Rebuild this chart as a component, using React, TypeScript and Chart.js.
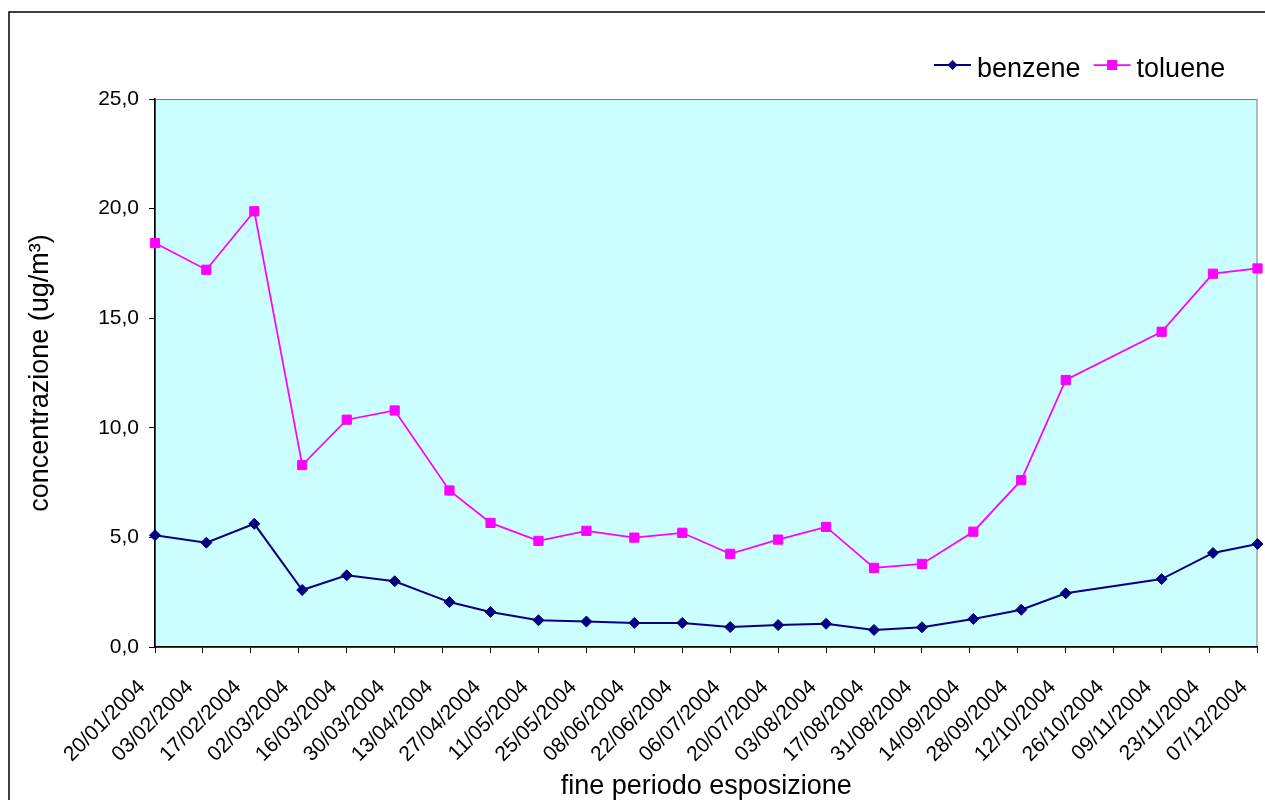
import React, { useEffect, useRef } from "react";
import { Chart, registerables } from "chart.js";

Chart.register(...registerables);

// ---- data ----
const sampleDates = [
  "20/01/2004", "04/02/2004", "18/02/2004", "03/03/2004", "16/03/2004", "30/03/2004",
  "15/04/2004", "27/04/2004", "11/05/2004", "25/05/2004", "08/06/2004", "22/06/2004",
  "06/07/2004", "20/07/2004", "03/08/2004", "17/08/2004", "31/08/2004", "15/09/2004",
  "29/09/2004", "12/10/2004", "09/11/2004", "24/11/2004", "07/12/2004",
];
const benzene = [
  5.1, 4.76, 5.62, 2.6, 3.27, 3.0, 2.05, 1.6, 1.22, 1.16, 1.1, 1.1,
  0.91, 1.0, 1.06, 0.78, 0.9, 1.28, 1.7, 2.45, 3.1, 4.29, 4.7,
];
const toluene = [
  18.43, 17.21, 19.88, 8.3, 10.37, 10.79, 7.14, 5.66, 4.84, 5.3, 4.99, 5.21,
  4.25, 4.9, 5.48, 3.61, 3.79, 5.26, 7.61, 12.18, 14.38, 17.03, 17.27,
];
const tickDates = [
  "20/01/2004", "03/02/2004", "17/02/2004", "02/03/2004", "16/03/2004", "30/03/2004",
  "13/04/2004", "27/04/2004", "11/05/2004", "25/05/2004", "08/06/2004", "22/06/2004",
  "06/07/2004", "20/07/2004", "03/08/2004", "17/08/2004", "31/08/2004", "14/09/2004",
  "28/09/2004", "12/10/2004", "26/10/2004", "09/11/2004", "23/11/2004", "07/12/2004",
];
const seriesNames = ["benzene", "toluene"];
const seriesColors = ["#000080", "#FF00FF"];
const xTitle = "fine periodo esposizione";
const yTitle = "concentrazione (ug/m³)";
const yMin = 0;
const yMax = 25;
const yStep = 5;

// ---- helpers ----
const toDay = (d: string) => {
  const [dd, mm, yy] = d.split("/").map(Number);
  return Date.UTC(yy, mm - 1, dd) / 86400000;
};
const day0 = toDay(tickDates[0]);
const dayOf = (d: string) => toDay(d) - day0;

const FONT = "'Liberation Sans', Arial, sans-serif";

const decorPlugin = {
  id: "decor",
  beforeDraw(chart: any) {
    const { ctx, chartArea: a } = chart;
    ctx.save();
    ctx.fillStyle = "#CCFFFF";
    ctx.fillRect(a.left, a.top, a.right - a.left, a.bottom - a.top);
    ctx.strokeStyle = "#808080";
    ctx.lineWidth = 1;
    ctx.strokeRect(a.left + 0.5, a.top + 0.5, a.right - a.left - 1, a.bottom - a.top);
    ctx.restore();
  },
  afterDraw(chart: any) {
    const { ctx } = chart;
    ctx.save();
    // outer frame
    ctx.strokeStyle = "#000000";
    ctx.lineWidth = 1.5;
    ctx.strokeRect(9, 12, 1400, 1000);
    // legend
    ctx.font = `27px ${FONT}`;
    ctx.textBaseline = "alphabetic";
    ctx.textAlign = "left";
    let x = 934;
    const ly = 65;
    seriesNames.forEach((name, i) => {
      const c = seriesColors[i];
      ctx.strokeStyle = c;
      ctx.lineWidth = i === 0 ? 2 : 1.75;
      ctx.beginPath();
      ctx.moveTo(x, ly);
      ctx.lineTo(x + 37, ly);
      ctx.stroke();
      ctx.fillStyle = c;
      const cx = x + 18.5;
      if (i === 0) {
        const r = 5;
        ctx.beginPath();
        ctx.moveTo(cx, ly - r);
        ctx.lineTo(cx + r, ly);
        ctx.lineTo(cx, ly + r);
        ctx.lineTo(cx - r, ly);
        ctx.closePath();
        ctx.fill();
      } else {
        ctx.fillRect(cx - 5, ly - 5, 10, 10);
      }
      ctx.fillStyle = "#000000";
      ctx.fillText(name, x + 43, 77);
      x += 43 + ctx.measureText(name).width + 13;
    });
    ctx.restore();
  },
};

export default function App() {
  const ref = useRef<HTMLCanvasElement | null>(null);

  useEffect(() => {
    if (!ref.current) return;
    const chart = new Chart(ref.current, {
      type: "line",
      data: {
        datasets: [
          {
            label: seriesNames[0],
            data: sampleDates.map((d, i) => ({ x: dayOf(d), y: benzene[i] })),
            borderColor: seriesColors[0],
            backgroundColor: seriesColors[0],
            borderWidth: 2,
            pointStyle: "rectRot",
            pointRadius: 5.5,
            pointBorderWidth: 1,
            pointBorderColor: seriesColors[0],
            pointBackgroundColor: seriesColors[0],
            tension: 0,
            clip: false,
          } as any,
          {
            label: seriesNames[1],
            data: sampleDates.map((d, i) => ({ x: dayOf(d), y: toluene[i] })),
            borderColor: seriesColors[1],
            backgroundColor: seriesColors[1],
            borderWidth: 1.75,
            pointStyle: "rect",
            pointRadius: 6.5,
            pointBorderWidth: 1,
            pointBorderColor: seriesColors[1],
            pointBackgroundColor: seriesColors[1],
            tension: 0,
            clip: false,
          } as any,
        ],
      },
      options: {
        responsive: false,
        animation: false,
        events: [],
        layout: { padding: { left: 0, right: 3, top: 99, bottom: 0 } },
        plugins: {
          legend: { display: false },
          tooltip: { enabled: false },
          title: { display: false },
        },
        scales: {
          x: {
            type: "linear",
            min: 0,
            max: dayOf(tickDates[tickDates.length - 1]),
            afterBuildTicks: (scale: any) => {
              scale.ticks = tickDates.map((d) => ({ value: dayOf(d) }));
            },
            afterFit: (scale: any) => {
              scale.height = 153;
              scale.paddingLeft = 0;
              scale.paddingRight = 0;
            },
            grid: {
              drawOnChartArea: false,
              drawTicks: true,
              tickLength: 6,
              tickColor: "#000000",
            },
            border: { display: true, color: "#000000", width: 1.5 },
            ticks: {
              autoSkip: false,
              minRotation: 45,
              maxRotation: 45,
              padding: 22,
              labelOffset: -13,
              color: "#000000",
              font: { family: FONT, size: 21 },
              callback: (_v: any, i: number) => tickDates[i],
            },
            title: {
              display: true,
              text: xTitle,
              color: "#000000",
              font: { family: FONT, size: 27, lineHeight: 1 },
              padding: { top: 0, bottom: 0 },
            },
          },
          y: {
            type: "linear",
            min: yMin,
            max: yMax,
            afterFit: (scale: any) => {
              scale.width = 155;
            },
            grid: {
              drawOnChartArea: false,
              drawTicks: true,
              tickLength: 6,
              tickColor: "#000000",
            },
            border: { display: true, color: "#000000", width: 1.5 },
            ticks: {
              stepSize: yStep,
              padding: 10,
              color: "#000000",
              font: { family: FONT, size: 21 },
              callback: (v: any) => Number(v).toFixed(1).replace(".", ","),
            },
            title: {
              display: true,
              text: yTitle,
              color: "#000000",
              font: { family: FONT, size: 27, lineHeight: 1 },
              padding: { top: 27, bottom: 0 },
            },
          },
        },
      } as any,
      plugins: [decorPlugin],
    });
    return () => chart.destroy();
  }, []);

  return (
    <div style={{ position: "fixed", left: 0, top: 0, width: 1265, height: 800, overflow: "hidden", background: "#ffffff" }}>
      <canvas ref={ref} width={1265} height={800} style={{ display: "block" }} />
    </div>
  );
}
